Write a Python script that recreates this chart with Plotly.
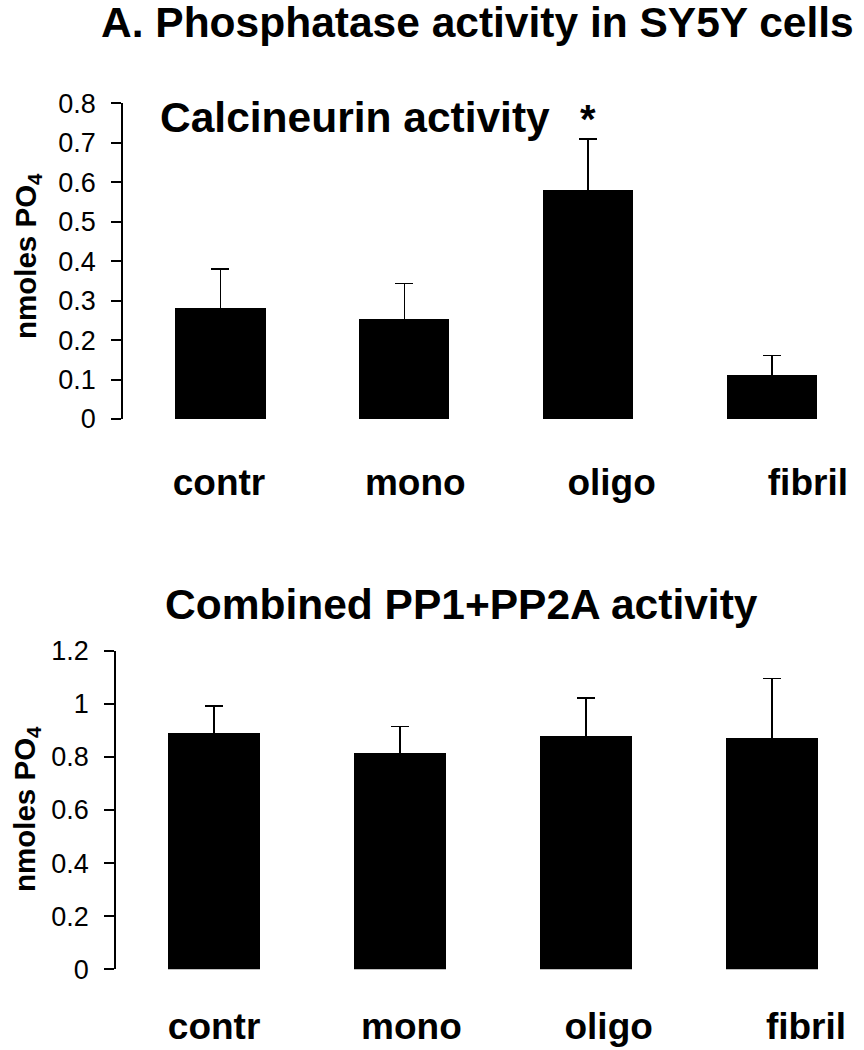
import plotly.graph_objects as go

categories = ["contr", "mono", "oligo", "fibril"]
calcineurin = [0.28, 0.252, 0.58, 0.11]
calcineurin_err = [0.10, 0.091, 0.13, 0.051]
pp_combined = [0.891, 0.817, 0.880, 0.871]
pp_combined_err = [0.101, 0.097, 0.142, 0.224]
top_ticks = [0, 0.1, 0.2, 0.3, 0.4, 0.5, 0.6, 0.7, 0.8]
bottom_ticks = [0, 0.2, 0.4, 0.6, 0.8, 1.0, 1.2]
significant = "oligo"

W, H = 864, 1050
FONT = "Liberation Sans, Arial, Helvetica, sans-serif"


def px(x):
    return x / W


def py(y):
    return 1 - y / H


fig = go.Figure()
for vals, errs, xa, ya, xlab in [(calcineurin, calcineurin_err, "x", "y", "x3"),
                                 (pp_combined, pp_combined_err, "x2", "y2", "x4")]:
    fig.add_trace(go.Bar(
        x=categories, y=vals, xaxis=xa, yaxis=ya,
        width=0.49,
        marker=dict(color="black", line=dict(width=0)),
        error_y=dict(type="data", symmetric=False, array=errs,
                     arrayminus=[0.02] * len(errs),
                     color="black", thickness=1.5, width=9),
        showlegend=False, hoverinfo="skip",
    ))
    # carrier for the category label axis (labels in the original are spaced
    # a bit wider than the bars)
    fig.add_trace(go.Scatter(
        x=categories, y=[0] * len(categories), xaxis=xlab, yaxis=ya,
        mode="markers", marker=dict(size=1, opacity=0),
        showlegend=False, hoverinfo="skip",
    ))

xcommon = dict(showline=False, ticks="", showgrid=False, zeroline=False,
               automargin=False, showticklabels=False)
xlabel = dict(showline=False, ticks="", showgrid=False, zeroline=False,
              automargin=False, type="category", categoryarray=categories,
              tickfont=dict(family=FONT, size=37, color="black", weight="bold"))
ycommon = dict(showline=True, linecolor="black", linewidth=1.5,
               ticks="outside", ticklen=10, tickwidth=1.5, tickcolor="black",
               showgrid=False, zeroline=False, automargin=False,
               tickfont=dict(family=FONT, size=27, color="black"),
               ticklabelstandoff=10)

fig.update_layout(
    width=W, height=H,
    margin=dict(l=0, r=0, t=0, b=0, autoexpand=False),
    paper_bgcolor="white", plot_bgcolor="white",
    bargap=0,
    xaxis=dict(domain=[px(123), 1], anchor="y", range=[-0.53, 3.5], **xcommon),
    yaxis=dict(domain=[py(419), py(103.3)], anchor="x", range=[0, 0.8],
               tickvals=top_ticks, **ycommon),
    xaxis2=dict(domain=[px(116), 1], anchor="y2", range=[-0.527, 3.495], **xcommon),
    yaxis2=dict(domain=[py(969.3), py(650.7)], anchor="x2", range=[0, 1.2],
                tickvals=bottom_ticks, **ycommon),
    xaxis3=dict(overlaying="x", anchor="y", side="bottom", range=[-0.489, 3.286],
                ticklabelstandoff=38, **xlabel),
    xaxis4=dict(overlaying="x2", anchor="y2", side="bottom", range=[-0.497, 3.294],
                ticklabelstandoff=32, **xlabel),
)

head_font = dict(family=FONT, size=42.5, color="black")
ytitle_font = dict(family=FONT, size=29.5, color="black")
ann = [
    dict(text="<b>A. Phosphatase activity in SY5Y cells</b>", x=px(478), y=py(23),
         xref="paper", yref="paper", xanchor="center", yanchor="middle",
         showarrow=False, font=head_font),
    dict(text="<b>Calcineurin activity</b>", x=px(158), y=py(117.5),
         xref="paper", yref="paper", xanchor="left", yanchor="middle",
         showarrow=False, font=head_font),
    dict(text="<b>Combined PP1+PP2A activity</b>", x=px(163), y=py(604.5),
         xref="paper", yref="paper", xanchor="left", yanchor="middle",
         showarrow=False, font=head_font),
    dict(text="<b>nmoles PO<sub>4</sub></b>", x=px(27), y=py(256), textangle=-90,
         xref="paper", yref="paper", xanchor="center", yanchor="middle",
         showarrow=False, font=ytitle_font),
    dict(text="<b>nmoles PO<sub>4</sub></b>", x=px(26), y=py(809), textangle=-90,
         xref="paper", yref="paper", xanchor="center", yanchor="middle",
         showarrow=False, font=ytitle_font),
]
i = categories.index(significant)
ann.append(dict(text="<b>*</b>", x=significant, xref="x", yref="y",
                y=calcineurin[i] + calcineurin_err[i] + 0.05,
                xanchor="center", yanchor="middle", showarrow=False,
                font=dict(family=FONT, size=40, color="black")))
fig.update_layout(annotations=ann)

fig.write_html("out.html", config={"displayModeBar": False},
               post_script="document.body.style.margin='0';")
